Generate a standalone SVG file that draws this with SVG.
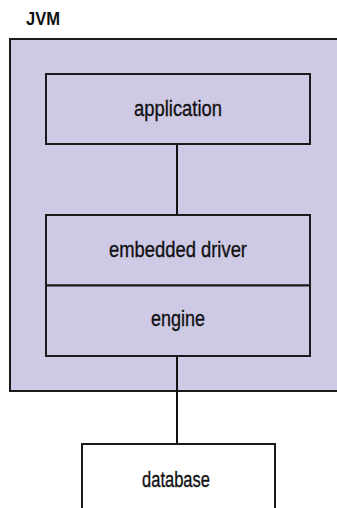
<svg xmlns="http://www.w3.org/2000/svg" width="337" height="508" viewBox="0 0 337 508">
<style>
.box{stroke:#1a1a1a;stroke-width:2}
.in{fill:#cecae6}
.lbl{font-family:"Liberation Sans",Arial,sans-serif;font-size:22.5px;fill:#111;stroke:#111;stroke-width:0.35;text-anchor:middle}
.conn{stroke:#111;stroke-width:2;fill:none}
</style>
<rect width="337" height="508" fill="#fff"/>
<g id="jvm">
<rect class="box in" x="10" y="39" width="340" height="352"/>
<text x="26" y="25" font-family="Liberation Sans,Arial,sans-serif" font-weight="bold" font-size="17.5" fill="#111" textLength="34" lengthAdjust="spacingAndGlyphs">JVM</text>
</g>
<g id="connectors">
<line class="conn" x1="177" y1="144" x2="177" y2="215"/>
<line class="conn" x1="177" y1="356" x2="177" y2="444"/>
</g>
<g id="application">
<rect class="box in" x="46" y="74" width="264" height="70"/>
<text class="lbl" x="178" y="115.5" textLength="88" lengthAdjust="spacingAndGlyphs">application</text>
</g>
<g id="embedded-driver">
<rect class="box in" x="46" y="215" width="264" height="70.5"/>
<text class="lbl" x="178" y="257" textLength="138" lengthAdjust="spacingAndGlyphs">embedded driver</text>
</g>
<g id="engine">
<rect class="box in" x="46" y="285.5" width="264" height="70.5"/>
<text class="lbl" x="178" y="326" textLength="54" lengthAdjust="spacingAndGlyphs">engine</text>
</g>
<g id="database">
<rect class="box" fill="#fff" x="82" y="444" width="193" height="90"/>
<text class="lbl" x="176" y="487" textLength="68" lengthAdjust="spacingAndGlyphs">database</text>
</g>
</svg>
